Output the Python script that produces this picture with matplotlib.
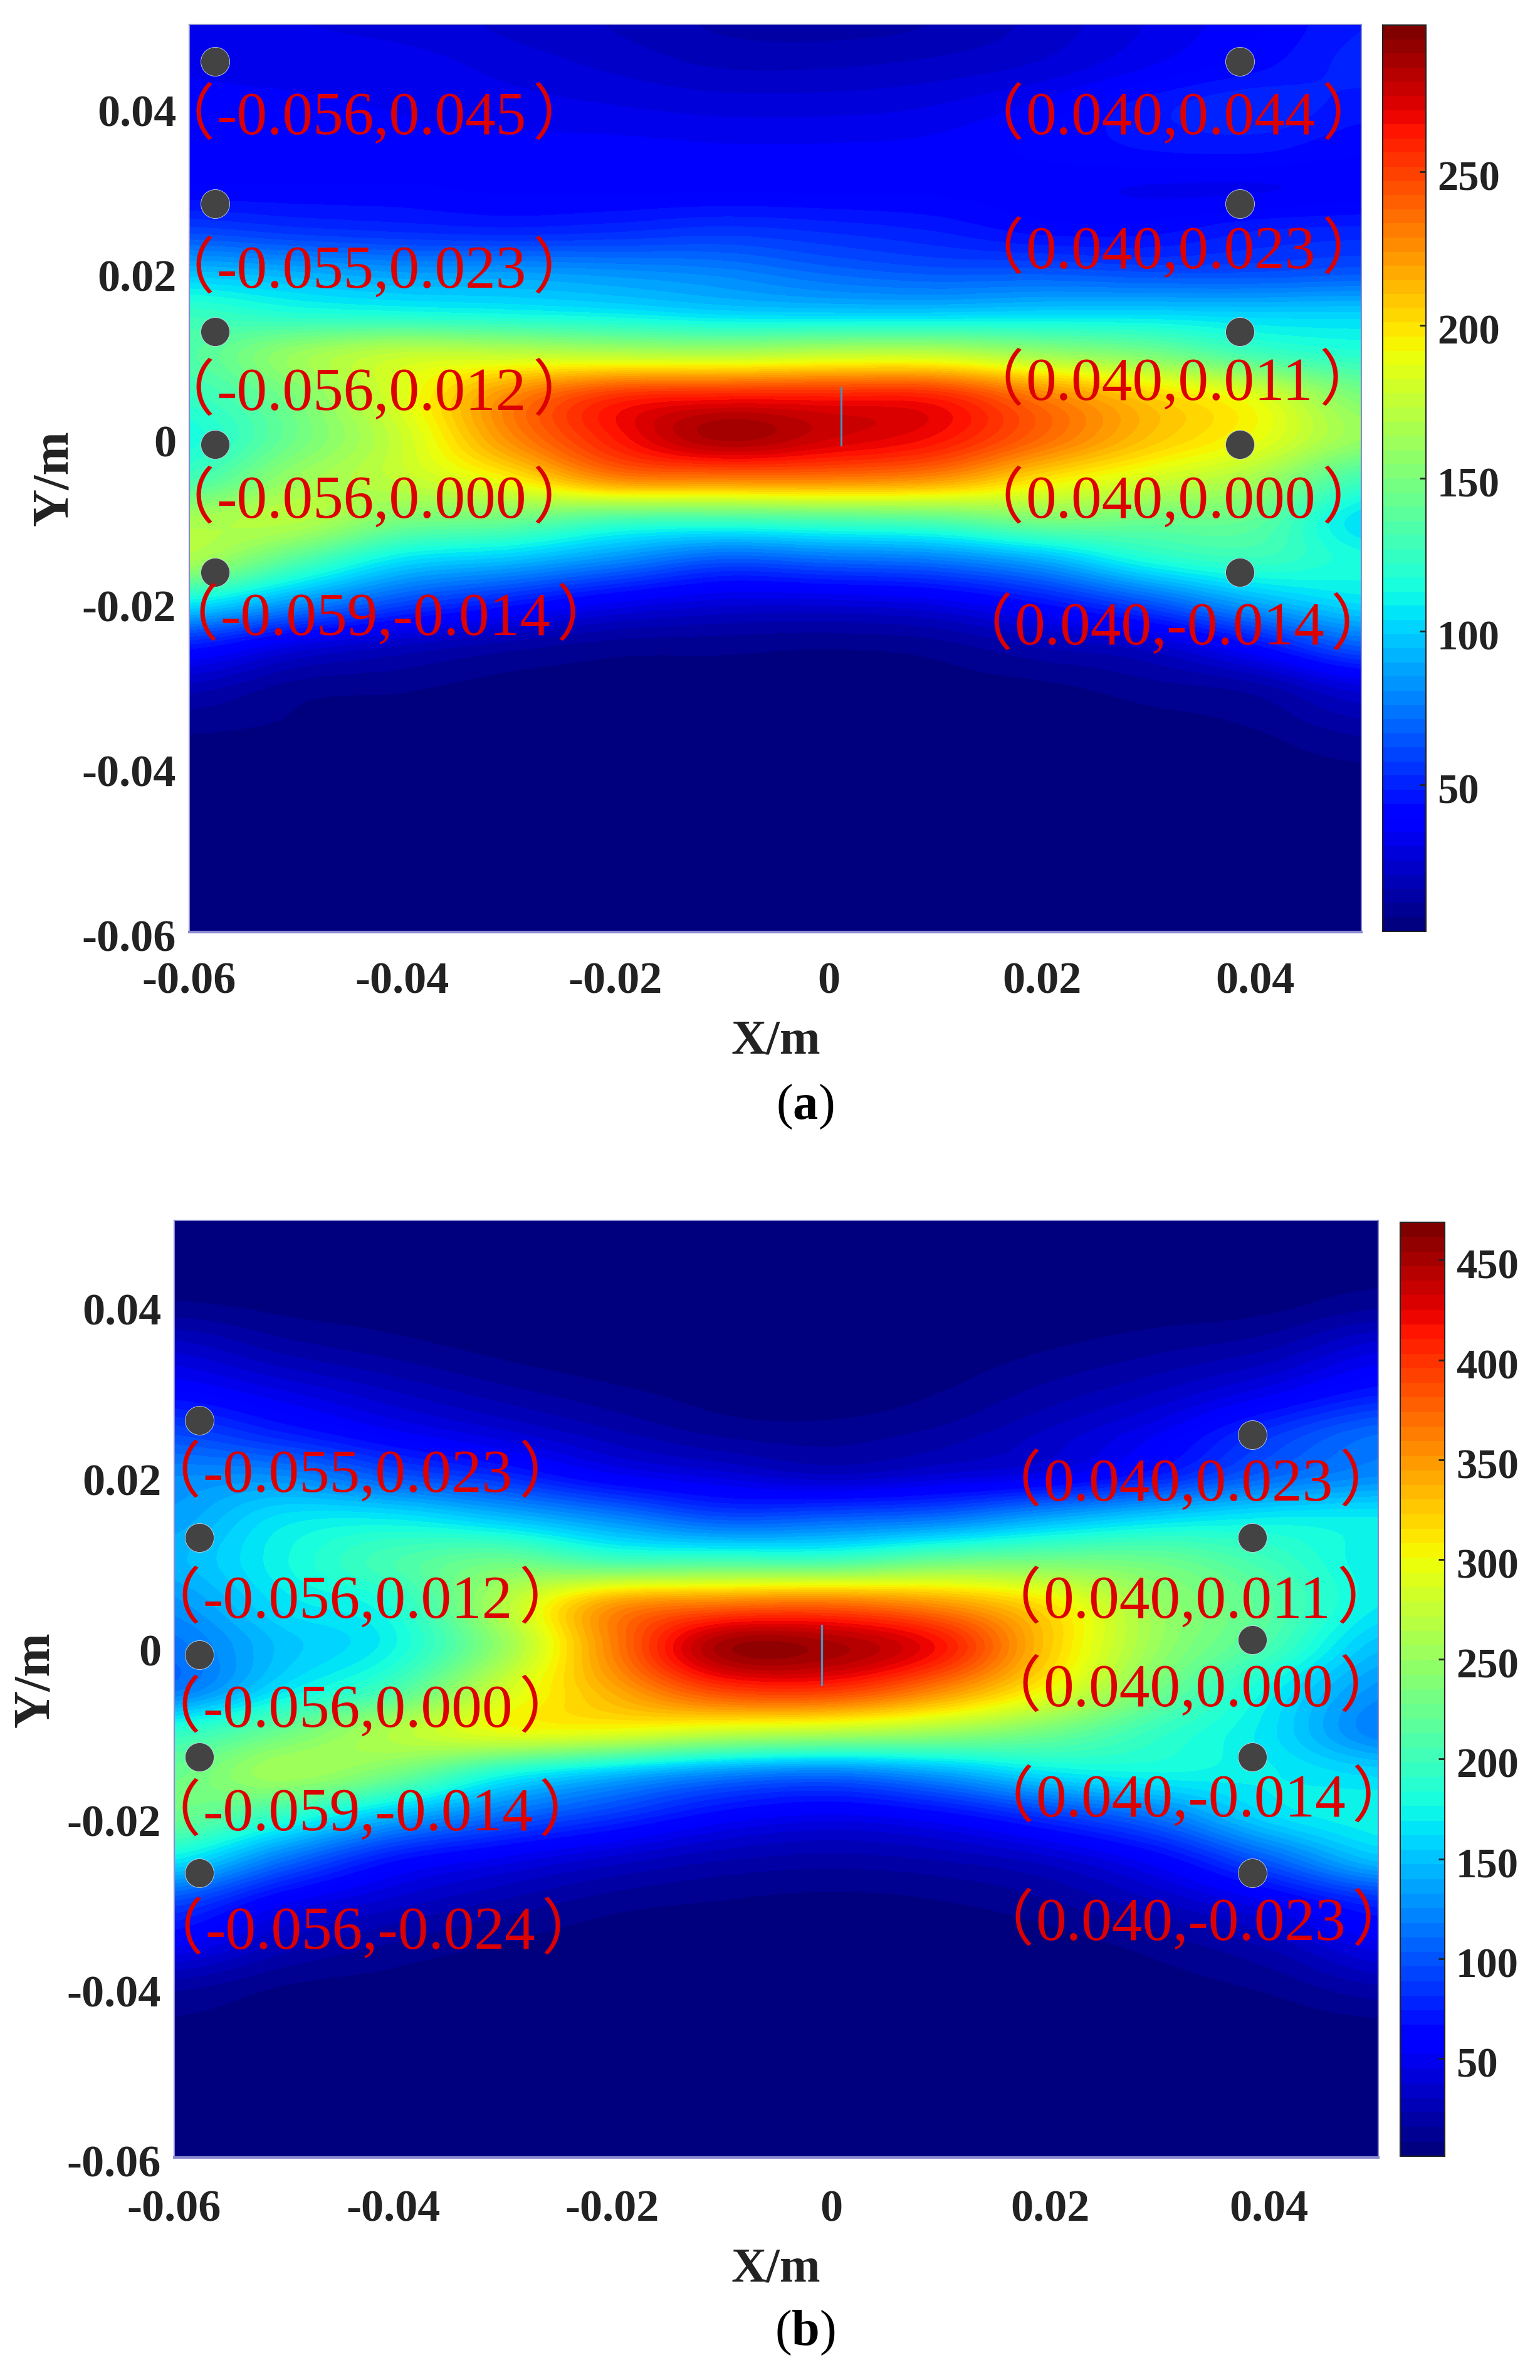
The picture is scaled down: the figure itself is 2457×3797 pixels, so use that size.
import matplotlib
matplotlib.use("Agg")
import matplotlib.pyplot as plt
import numpy as np
from matplotlib.transforms import ScaledTranslation

plt.rcParams["font.family"] = ["Liberation Serif", "Noto Sans CJK SC"]
plt.rcParams["mathtext.fontset"] = "custom"
plt.rcParams["mathtext.rm"] = "Liberation Serif"
plt.rcParams["mathtext.bf"] = "Liberation Serif:bold"

W, H = 2457, 3798

# value grid: columns are X, rows are Y from top to bottom
x_grid = [-0.06, -0.05, -0.04, -0.03, -0.02, -0.01, 0.0, 0.01, 0.02, 0.03, 0.04, 0.05]
y_grid = [0.05, 0.045, 0.04, 0.035, 0.03, 0.025, 0.02, 0.015, 0.01, 0.005, 0.0, -0.005,
          -0.01, -0.015, -0.02, -0.025, -0.03, -0.035, -0.04, -0.045, -0.05, -0.055, -0.06]

z_a = [
    [32, 30, 28, 24, 20, 15, 14, 16, 22, 30, 38, 48],
    [34, 33, 32, 28, 24, 20, 20, 22, 26, 34, 42, 50],
    [35, 35, 34, 32, 30, 28, 28, 30, 36, 46, 52, 46],
    [36, 36, 36, 36, 36, 35, 35, 36, 40, 44, 45, 40],
    [40, 40, 40, 38, 38, 38, 38, 38, 36, 34, 34, 36],
    [60, 55, 52, 50, 52, 55, 52, 48, 42, 42, 48, 50],
    [95, 90, 85, 85, 82, 78, 70, 65, 65, 62, 62, 65],
    [125, 118, 115, 112, 108, 102, 100, 100, 102, 102, 100, 100],
    [135, 160, 175, 175, 172, 170, 175, 175, 162, 150, 130, 120],
    [125, 150, 185, 226, 254, 260, 260, 258, 230, 205, 185, 150],
    [115, 145, 178, 226, 262, 286, 276, 265, 238, 210, 190, 160],
    [130, 160, 175, 195, 228, 232, 232, 225, 200, 182, 165, 130],
    [165, 170, 150, 145, 132, 130, 134, 138, 150, 145, 140, 105],
    [165, 135, 105, 95, 80, 65, 70, 75, 90, 115, 125, 115],
    [110, 85, 62, 48, 35, 28, 28, 32, 45, 65, 90, 105],
    [50, 32, 22, 15, 10, 9, 8, 10, 18, 25, 45, 70],
    [20, 10, 8, 5, 5, 5, 5, 5, 6, 10, 15, 30],
    [8, 6, 5, 4, 4, 4, 4, 4, 4, 5, 7, 14],
    [4, 4, 3, 3, 3, 3, 3, 3, 3, 3, 4, 6],
    [3, 3, 3, 3, 3, 3, 3, 3, 3, 3, 3, 3],
    [3, 3, 3, 3, 3, 3, 3, 3, 3, 3, 3, 3],
    [3, 3, 3, 3, 3, 3, 3, 3, 3, 3, 3, 3],
    [3, 3, 3, 3, 3, 3, 3, 3, 3, 3, 3, 3],
]

z_b = [
    [2, 2, 2, 2, 2, 2, 2, 2, 2, 2, 2, 3],
    [3, 3, 2, 2, 2, 2, 2, 2, 2, 2, 3, 4],
    [10, 6, 4, 3, 2, 2, 2, 2, 3, 4, 6, 14],
    [35, 20, 12, 6, 3, 3, 3, 4, 8, 14, 22, 42],
    [60, 45, 30, 18, 10, 5, 4, 8, 18, 30, 48, 70],
    [95, 75, 55, 40, 25, 14, 12, 18, 32, 52, 85, 110],
    [125, 125, 100, 80, 55, 42, 32, 40, 50, 75, 108, 125],
    [135, 165, 168, 150, 125, 100, 105, 115, 140, 160, 170, 170],
    [145, 175, 205, 225, 205, 205, 205, 225, 230, 225, 200, 170],
    [130, 165, 185, 265, 345, 365, 370, 350, 310, 250, 215, 170],
    [115, 150, 175, 250, 360, 450, 450, 415, 325, 250, 205, 150],
    [115, 165, 205, 280, 340, 395, 400, 360, 300, 230, 175, 130],
    [190, 225, 265, 295, 295, 280, 270, 255, 230, 195, 165, 120],
    [225, 255, 230, 180, 150, 125, 115, 135, 165, 175, 170, 160],
    [225, 190, 145, 110, 85, 60, 50, 60, 85, 115, 160, 175],
    [170, 115, 70, 50, 35, 24, 20, 24, 35, 60, 105, 150],
    [95, 55, 35, 22, 12, 8, 6, 8, 15, 30, 52, 80],
    [55, 28, 15, 8, 4, 3, 2, 3, 5, 12, 25, 50],
    [18, 8, 5, 3, 2, 2, 2, 2, 3, 5, 10, 22],
    [6, 4, 3, 2, 2, 2, 2, 2, 2, 2, 3, 5],
    [2, 2, 2, 2, 2, 2, 2, 2, 2, 2, 2, 2],
    [2, 2, 2, 2, 2, 2, 2, 2, 2, 2, 2, 2],
    [2, 2, 2, 2, 2, 2, 2, 2, 2, 2, 2, 2],
]

cbar_ticks_a = [50, 100, 150, 200, 250]
cbar_ticks_b = [50, 100, 150, 200, 250, 300, 350, 400, 450]
xticks = [-0.06, -0.04, -0.02, 0, 0.02, 0.04]
xtick_labels = ["-0.06", "-0.04", "-0.02", "0", "0.02", "0.04"]
yticks = [-0.06, -0.04, -0.02, 0, 0.02, 0.04]
ytick_labels = ["-0.06", "-0.04", "-0.02", "0", "0.02", "0.04"]

# measuring points
dots_a_x = [-0.0576] * 5 + [0.0386] * 5
dots_a_y = [0.0455, 0.0283, 0.0128, -0.0009, -0.0164] * 2
dots_b_x = [-0.0577] * 5 + [0.0385] * 5
dots_b_y = [0.0265, 0.0128, -0.001, -0.013, -0.0266, 0.0248, 0.0128, 0.0008, -0.013, -0.0266]

labels_a = ["-0.056,0.045", "-0.055,0.023", "-0.056,0.012", "-0.056,0.000", "-0.059,-0.014",
            "0.040,0.044", "0.040,0.023", "0.040,0.011", "0.040,0.000", "0.040,-0.014"]
labels_b = ["-0.055,0.023", "-0.056,0.012", "-0.056,0.000", "-0.059,-0.014", "-0.056,-0.024",
            "0.040,0.023", "0.040,0.011", "0.040,0.000", "0.040,-0.014", "0.040,-0.023"]
# left edge of bracket ink / vertical centre of the digits, in pixels
label_pos_a = [(309, 182), (309, 427), (309, 622), (309, 794), (315, 981),
               (1600, 182), (1600, 396), (1600, 606), (1600, 794), (1582, 996)]
label_pos_b = [(287, 2348), (287, 2549), (287, 2723), (287, 2888), (291, 3077),
               (1628, 2362), (1628, 2549), (1628, 2690), (1616, 2866), (1616, 3063)]


def add_px_axes(fig, left, top, right, bottom):
    return fig.add_axes([left / W, 1 - bottom / H, (right - left) / W, (bottom - top) / H])


def shift_labels(fig, labels, dy_px):
    offset = ScaledTranslation(0, -dy_px / 100, fig.dpi_scale_trans)
    for t in labels:
        t.set_transform(t.get_transform() + offset)
        t.set_fontweight("bold")


def draw_red_label(fig, text, px, py):
    style = dict(color="#dc0000", fontsize=70, va="baseline", zorder=5)
    t = fig.text((px + 36) / W, 1 - (py + 32) / H, text, ha="left", **style)
    bb = t.get_window_extent(fig.canvas.get_renderer())
    fig.text((bb.x0 - 100) / W, 1 - (py + 32) / H, "（", ha="left", **style)
    fig.text((bb.x1 + 10) / W, 1 - (py + 32) / H, "）", ha="left", **style)


def draw_panel(fig, z, box, cbox, vmin, vmax, cticks, dots_x, dots_y, labels, label_pos, wire, xpad):
    ax = add_px_axes(fig, *box)
    dx = (x_grid[1] - x_grid[0]) / 2
    dy = (y_grid[0] - y_grid[1]) / 2
    im = ax.imshow(np.array(z, dtype=float), cmap=plt.get_cmap("jet", 64), vmin=vmin, vmax=vmax,
                   extent=(x_grid[0] - dx, x_grid[-1] + dx, y_grid[-1] - dy, y_grid[0] + dy),
                   origin="upper", aspect="auto", interpolation="catrom", interpolation_stage="data")
    ax.set_xlim(-0.06, 0.05)
    ax.set_ylim(-0.06, 0.05)
    ax.set_xticks(xticks, xtick_labels)
    ax.set_yticks(yticks, ytick_labels)
    ax.tick_params(axis="x", length=0, pad=xpad, labelsize=52, colors="#222222")
    ax.tick_params(axis="y", length=0, pad=15, labelsize=52, colors="#222222")
    shift_labels(fig, ax.get_xticklabels(), 5)
    shift_labels(fig, ax.get_yticklabels(), 5)
    for s in ax.spines.values():
        s.set_color("#8a8ad0")
        s.set_linewidth(1.5)
    ax.spines["bottom"].set_linewidth(3)

    ax.scatter(dots_x, dots_y, s=1100, color="#434343", edgecolors="#c8d8e8", linewidths=0.6, zorder=3)
    ax.plot([wire[0], wire[0]], [wire[1], wire[2]], color="#3a9ac8", lw=2.2, zorder=3)

    for text, (px, py) in zip(labels, label_pos):
        draw_red_label(fig, text, px, py)

    cax = add_px_axes(fig, *cbox)
    cb = fig.colorbar(im, cax=cax, ticks=cticks)
    cb.ax.tick_params(direction="in", length=7, width=2, labelsize=48, pad=13, colors="#222222")
    shift_labels(fig, cb.ax.get_yticklabels(), 5)
    cb.outline.set_linewidth(1.5)
    cb.outline.set_edgecolor("#222222")
    return ax


fig = plt.figure(figsize=(W / 100, H / 100), dpi=100, facecolor="white")

draw_panel(fig, z_a, (302, 40, 2172, 1488), (2206, 41, 2275, 1487), 2, 298, cbar_ticks_a,
           dots_a_x, dots_a_y, labels_a, label_pos_a, (0.00118, -0.001, 0.006), 30)
draw_panel(fig, z_b, (278, 1948, 2199, 3443), (2234, 1951, 2305, 3441), 1, 469, cbar_ticks_b,
           dots_b_x, dots_b_y, labels_b, label_pos_b, (-0.00085, -0.0045, 0.0025), 33)

fig.text(1238 / W, 1 - 1662 / H, "X/m", fontsize=56, fontweight="bold", color="#222222", ha="center", va="center")
fig.text(87 / W, 1 - 763 / H, "Y/m", fontsize=60, fontweight="bold", color="#222222", ha="center", va="center", rotation=90)
fig.text(1238 / W, 1 - 3621 / H, "X/m", fontsize=56, fontweight="bold", color="#222222", ha="center", va="center")
fig.text(58 / W, 1 - 2680 / H, "Y/m", fontsize=60, fontweight="bold", color="#222222", ha="center", va="center", rotation=90)
fig.text(1284 / W, 1 - 1766 / H, r"($\mathbf{a}$)", fontsize=58, color="black", ha="center", va="center")
fig.text(1284 / W, 1 - 3722 / H, r"($\mathbf{b}$)", fontsize=58, color="black", ha="center", va="center")

fig.savefig("out.png", dpi=100)
